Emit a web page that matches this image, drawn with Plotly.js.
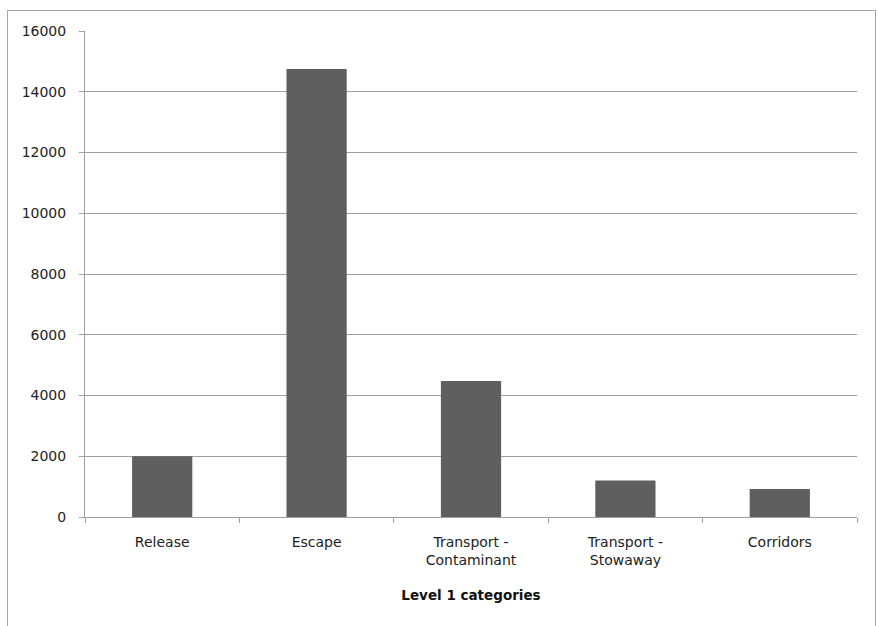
<!DOCTYPE html>
<html>
<head>
<meta charset="utf-8">
<script src="https://cdn.plot.ly/plotly-3.0.1.min.js"></script>
<style>
html,body{margin:0;padding:0;background:#fff;overflow:hidden;}
#frame{position:absolute;left:7px;top:10px;width:869px;height:640px;border:1px solid #a6a6a6;box-sizing:border-box;pointer-events:none;z-index:5;}
#chart{position:absolute;left:0;top:0;width:878px;height:626px;}
</style>
</head>
<body>
<div id="chart"></div>
<div id="frame"></div>
<script>
const categories = ["Release", "Escape", "Transport -<br>Contaminant", "Transport -<br>Stowaway", "Corridors"];
const values = [2000, 14750, 4480, 1200, 920];
const yTicks = [0, 2000, 4000, 6000, 8000, 10000, 12000, 14000, 16000];

const FONT = "DejaVu Sans, Verdana, sans-serif";

const trace = {
  type: "bar",
  x: categories,
  y: values,
  marker: {color: "#5f5f5f", line: {width: 0}},
  hoverinfo: "x+y"
};

const layout = {
  width: 878, height: 626,
  margin: {l: 85, r: 21, t: 31, b: 109},
  paper_bgcolor: "rgba(0,0,0,0)",
  plot_bgcolor: "#fff",
  bargap: 0.61,
  showlegend: false,
  font: {family: FONT, size: 14, color: "#222"},
  xaxis: {
    type: "category",
    showgrid: false,
    showline: true, linecolor: "#a0a0a0", linewidth: 1,
    ticks: "outside", ticklen: 5, tickcolor: "#a0a0a0", tickson: "boundaries",
    ticklabelstandoff: 12,
    tickfont: {family: FONT, size: 14, color: "#222"},
    title: {text: "Level 1 categories", font: {family: FONT, size: 13.5, color: "#111", weight: "bold"}, standoff: 23}
  },
  yaxis: {
    range: [0, 16000],
    tickvals: yTicks,
    ticktext: yTicks.map(String),
    showgrid: true, gridcolor: "#a0a0a0", gridwidth: 1,
    showline: true, linecolor: "#a0a0a0", linewidth: 1,
    ticks: "outside", ticklen: 5, tickcolor: "#a0a0a0",
    ticklabelstandoff: 10,
    zeroline: false,
    tickfont: {family: FONT, size: 14, color: "#222"}
  }
};

Plotly.newPlot("chart", [trace], layout, {displayModeBar: false, staticPlot: true});
</script>
</body>
</html>
